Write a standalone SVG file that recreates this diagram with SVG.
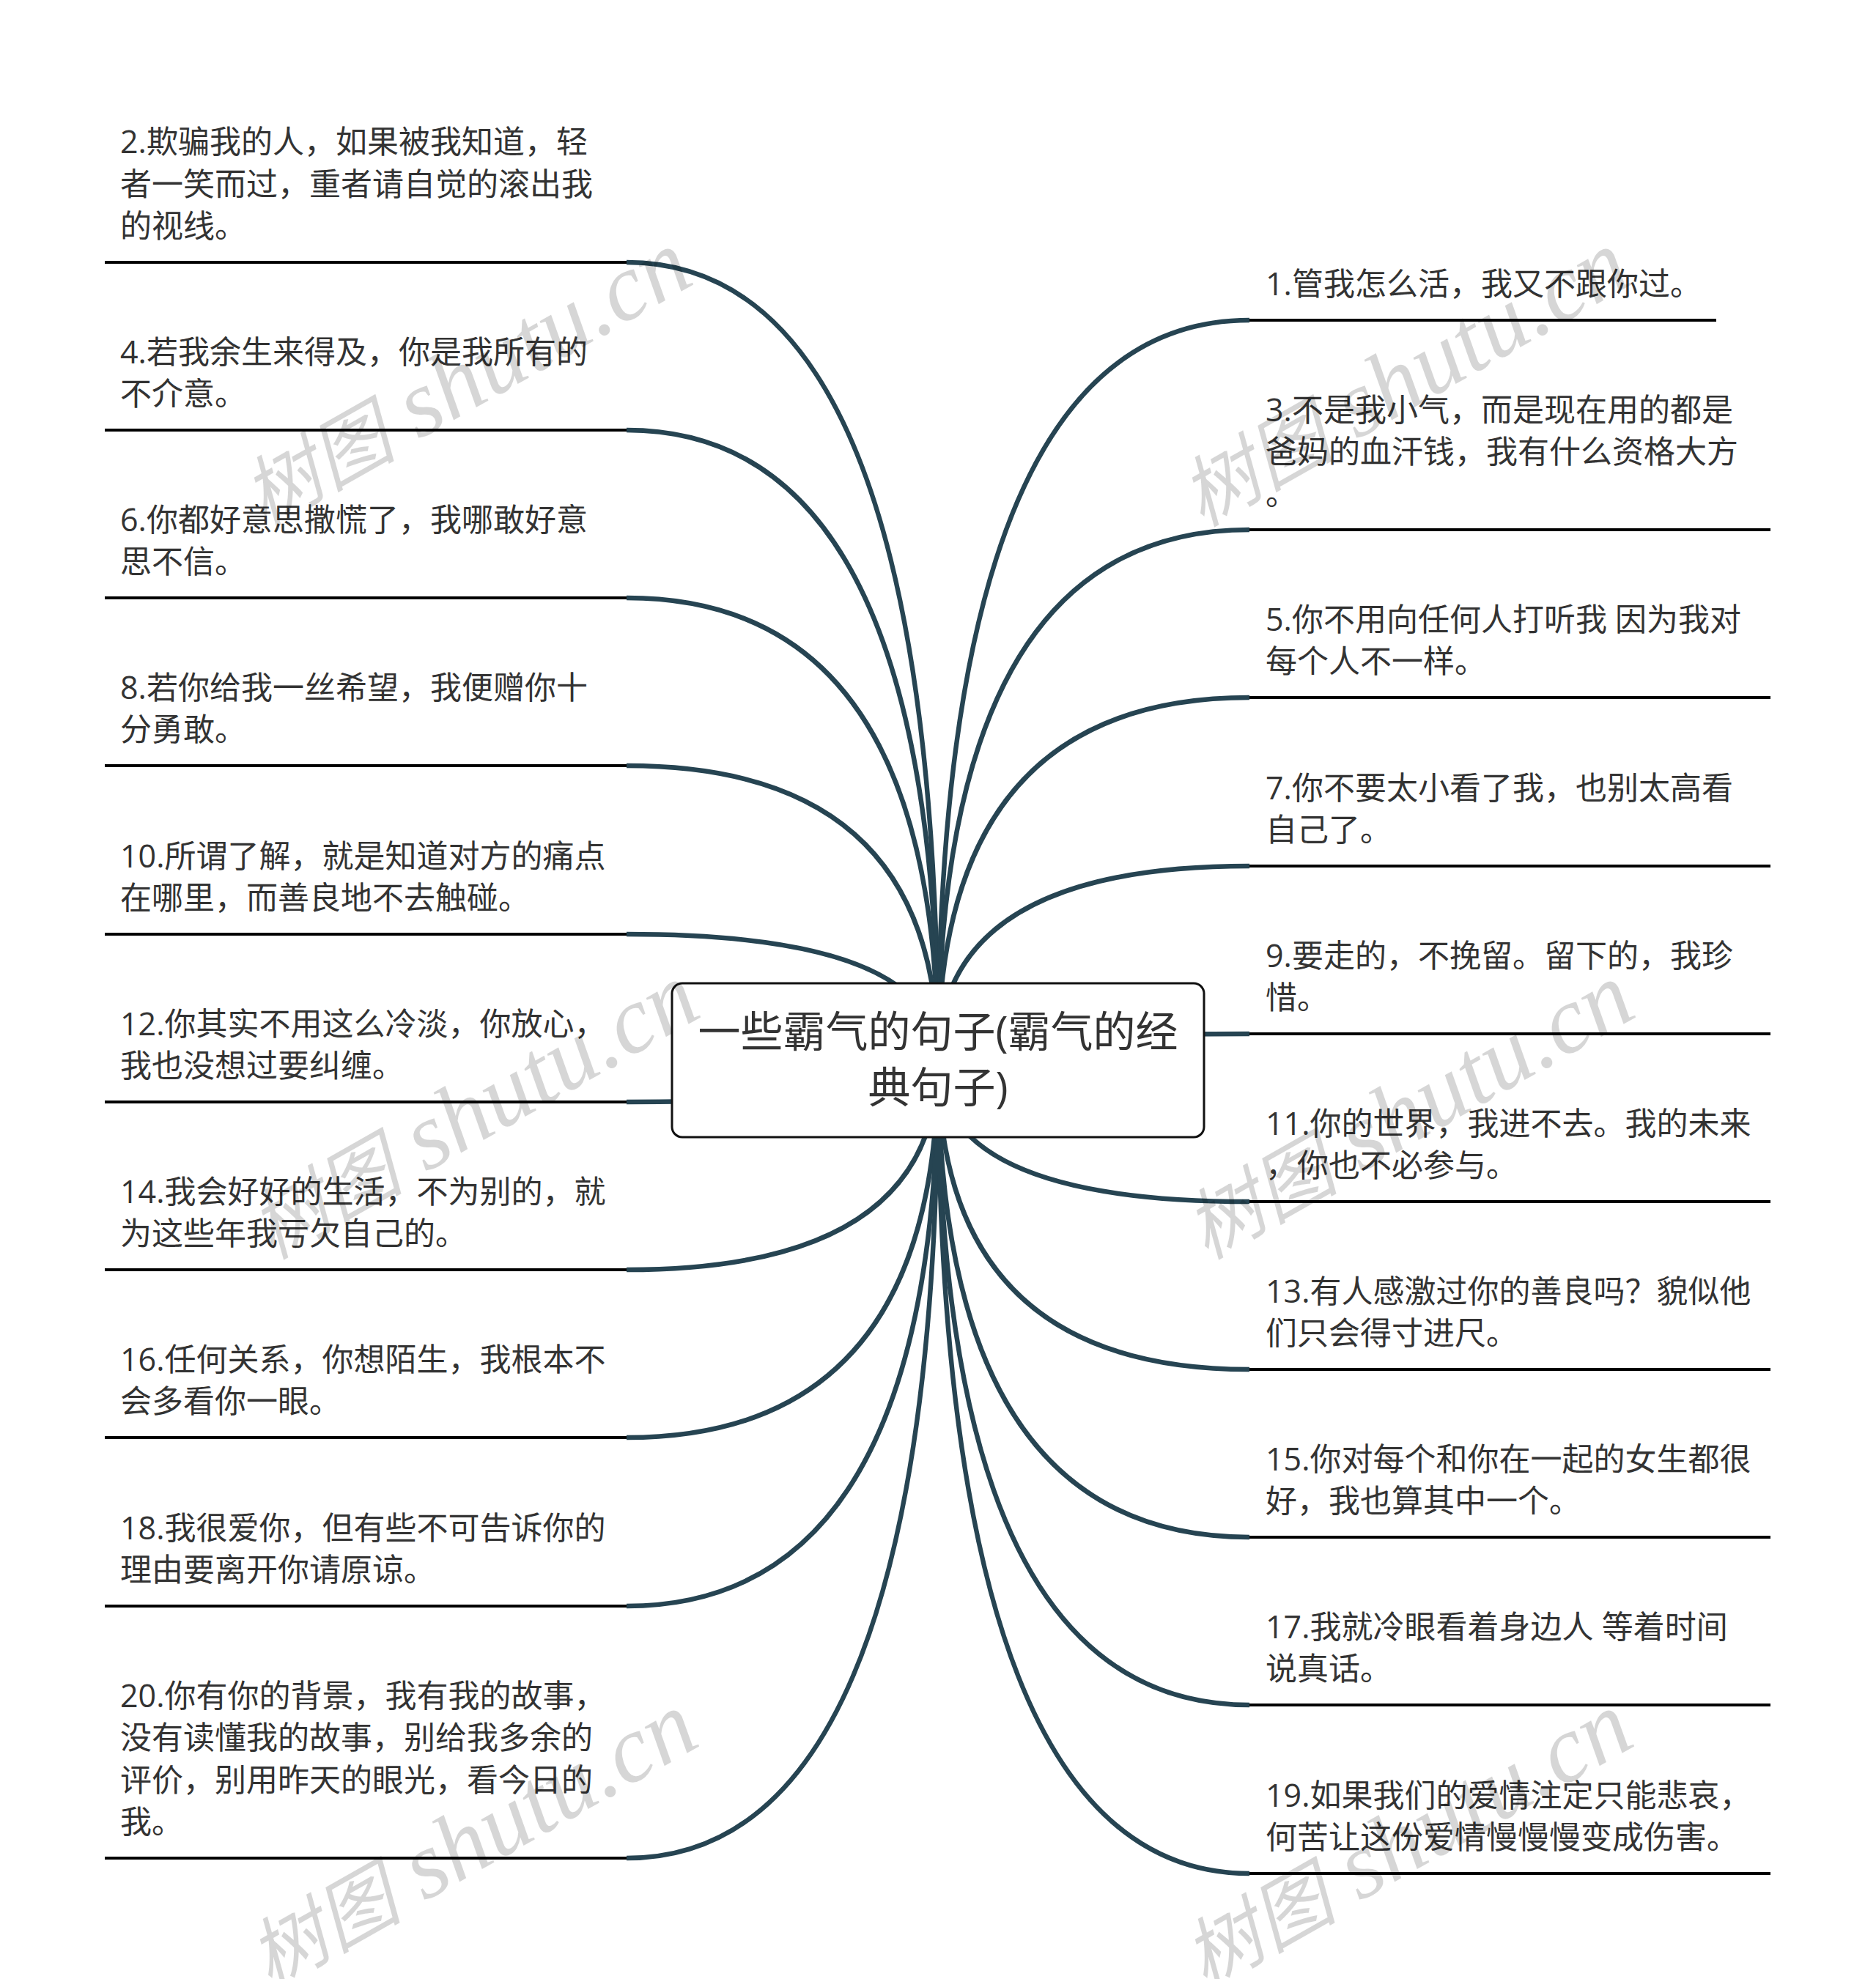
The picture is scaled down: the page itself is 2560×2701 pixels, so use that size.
<svg xmlns="http://www.w3.org/2000/svg" width="2560" height="2701" viewBox="0 0 2560 2701">
<style>
.t{font-family:"Open Sans","Noto Sans CJK SC",sans-serif;font-size:43px;fill:#333}
.r{font-family:"Open Sans","Noto Sans CJK SC",sans-serif;font-size:58px;fill:#333;text-anchor:middle}
.c{fill:none;stroke:#264452;stroke-width:6.5}
.u{stroke:#000;stroke-width:4;fill:none}
.w{font-family:"Liberation Serif","Noto Sans CJK SC",serif;font-style:italic;font-size:130px;fill:#000;fill-opacity:.16}
.wc{font-family:"Noto Sans CJK SC",sans-serif;font-size:105px}
</style>
<rect width="2560" height="2701" fill="#fff"/>
<g id="connectors">
<path class="c" d="M855,358Q1280,358 1280,1447"/>
<path class="c" d="M855,587Q1280,587 1280,1447"/>
<path class="c" d="M855,816Q1280,816 1280,1447"/>
<path class="c" d="M855,1045Q1280,1045 1280,1447"/>
<path class="c" d="M855,1275Q1280,1275 1280,1447"/>
<path class="c" d="M855,1504Q1280,1504 1280,1447"/>
<path class="c" d="M855,1733Q1280,1733 1280,1447"/>
<path class="c" d="M855,1962Q1280,1962 1280,1447"/>
<path class="c" d="M855,2192Q1280,2192 1280,1447"/>
<path class="c" d="M855,2536Q1280,2536 1280,1447"/>
<path class="c" d="M1705,437Q1280,437 1280,1447"/>
<path class="c" d="M1705,723Q1280,723 1280,1447"/>
<path class="c" d="M1705,952Q1280,952 1280,1447"/>
<path class="c" d="M1705,1182Q1280,1182 1280,1447"/>
<path class="c" d="M1705,1411Q1280,1411 1280,1447"/>
<path class="c" d="M1705,1640Q1280,1640 1280,1447"/>
<path class="c" d="M1705,1869Q1280,1869 1280,1447"/>
<path class="c" d="M1705,2098Q1280,2098 1280,1447"/>
<path class="c" d="M1705,2327Q1280,2327 1280,1447"/>
<path class="c" d="M1705,2557Q1280,2557 1280,1447"/>
</g>
<g id="root"><rect x="917" y="1342" width="726" height="210" rx="14" fill="#fff" stroke="#111" stroke-width="3"/>
<text class="r" x="1280" y="1429">一些霸气的句子(霸气的经</text><text class="r" x="1280" y="1505">典句子)</text></g>
<g id="n2"><path class="u" d="M143,358H855"/><text class="t" x="164" y="209">2.欺骗我的人，如果被我知道，轻</text><text class="t" x="164" y="267">者一笑而过，重者请自觉的滚出我</text><text class="t" x="164" y="324">的视线。</text></g>
<g id="n4"><path class="u" d="M143,587H855"/><text class="t" x="164" y="496">4.若我余生来得及，你是我所有的</text><text class="t" x="164" y="553">不介意。</text></g>
<g id="n6"><path class="u" d="M143,816H855"/><text class="t" x="164" y="725">6.你都好意思撒慌了，我哪敢好意</text><text class="t" x="164" y="782">思不信。</text></g>
<g id="n8"><path class="u" d="M143,1045H855"/><text class="t" x="164" y="954">8.若你给我一丝希望，我便赠你十</text><text class="t" x="164" y="1011">分勇敢。</text></g>
<g id="n10"><path class="u" d="M143,1275H855"/><text class="t" x="164" y="1184">10.所谓了解，就是知道对方的痛点</text><text class="t" x="164" y="1241">在哪里，而善良地不去触碰。</text></g>
<g id="n12"><path class="u" d="M143,1504H855"/><text class="t" x="164" y="1413">12.你其实不用这么冷淡，你放心，</text><text class="t" x="164" y="1470">我也没想过要纠缠。</text></g>
<g id="n14"><path class="u" d="M143,1733H855"/><text class="t" x="164" y="1642">14.我会好好的生活，不为别的，就</text><text class="t" x="164" y="1699">为这些年我亏欠自己的。</text></g>
<g id="n16"><path class="u" d="M143,1962H855"/><text class="t" x="164" y="1871">16.任何关系，你想陌生，我根本不</text><text class="t" x="164" y="1928">会多看你一眼。</text></g>
<g id="n18"><path class="u" d="M143,2192H855"/><text class="t" x="164" y="2101">18.我很爱你，但有些不可告诉你的</text><text class="t" x="164" y="2158">理由要离开你请原谅。</text></g>
<g id="n20"><path class="u" d="M143,2536H855"/><text class="t" x="164" y="2330">20.你有你的背景，我有我的故事，</text><text class="t" x="164" y="2387">没有读懂我的故事，别给我多余的</text><text class="t" x="164" y="2445">评价，别用昨天的眼光，看今日的</text><text class="t" x="164" y="2502">我。</text></g>
<g id="n1"><path class="u" d="M1705,437H2342"/><text class="t" x="1727" y="403">1.管我怎么活，我又不跟你过。</text></g>
<g id="n3"><path class="u" d="M1705,723H2416"/><text class="t" x="1727" y="575">3.不是我小气，而是现在用的都是</text><text class="t" x="1727" y="632">爸妈的血汗钱，我有什么资格大方</text><text class="t" x="1727" y="689">。</text></g>
<g id="n5"><path class="u" d="M1705,952H2416"/><text class="t" x="1727" y="861">5.你不用向任何人打听我 因为我对</text><text class="t" x="1727" y="918">每个人不一样。</text></g>
<g id="n7"><path class="u" d="M1705,1182H2416"/><text class="t" x="1727" y="1091">7.你不要太小看了我，也别太高看</text><text class="t" x="1727" y="1148">自己了。</text></g>
<g id="n9"><path class="u" d="M1705,1411H2416"/><text class="t" x="1727" y="1320">9.要走的，不挽留。留下的，我珍</text><text class="t" x="1727" y="1377">惜。</text></g>
<g id="n11"><path class="u" d="M1705,1640H2416"/><text class="t" x="1727" y="1549">11.你的世界，我进不去。我的未来</text><text class="t" x="1727" y="1606">，你也不必参与。</text></g>
<g id="n13"><path class="u" d="M1705,1869H2416"/><text class="t" x="1727" y="1778">13.有人感激过你的善良吗？貌似他</text><text class="t" x="1727" y="1835">们只会得寸进尺。</text></g>
<g id="n15"><path class="u" d="M1705,2098H2416"/><text class="t" x="1727" y="2007">15.你对每个和你在一起的女生都很</text><text class="t" x="1727" y="2064">好，我也算其中一个。</text></g>
<g id="n17"><path class="u" d="M1705,2327H2416"/><text class="t" x="1727" y="2236">17.我就冷眼看着身边人 等着时间</text><text class="t" x="1727" y="2293">说真话。</text></g>
<g id="n19"><path class="u" d="M1705,2557H2416"/><text class="t" x="1727" y="2466">19.如果我们的爱情注定只能悲哀，</text><text class="t" x="1727" y="2523">何苦让这份爱情慢慢慢变成伤害。</text></g>
<g id="watermarks">
<text class="w" transform="translate(360,720) rotate(-29.5)"><tspan class="wc">树图</tspan> shutu.cn</text>
<text class="w" transform="translate(1640,720) rotate(-29.5)"><tspan class="wc">树图</tspan> shutu.cn</text>
<text class="w" transform="translate(370,1720) rotate(-29.5)"><tspan class="wc">树图</tspan> shutu.cn</text>
<text class="w" transform="translate(1646,1720) rotate(-29.5)"><tspan class="wc">树图</tspan> shutu.cn</text>
<text class="w" transform="translate(368,2715) rotate(-29.5)"><tspan class="wc">树图</tspan> shutu.cn</text>
<text class="w" transform="translate(1644,2715) rotate(-29.5)"><tspan class="wc">树图</tspan> shutu.cn</text>
</g>
</svg>
